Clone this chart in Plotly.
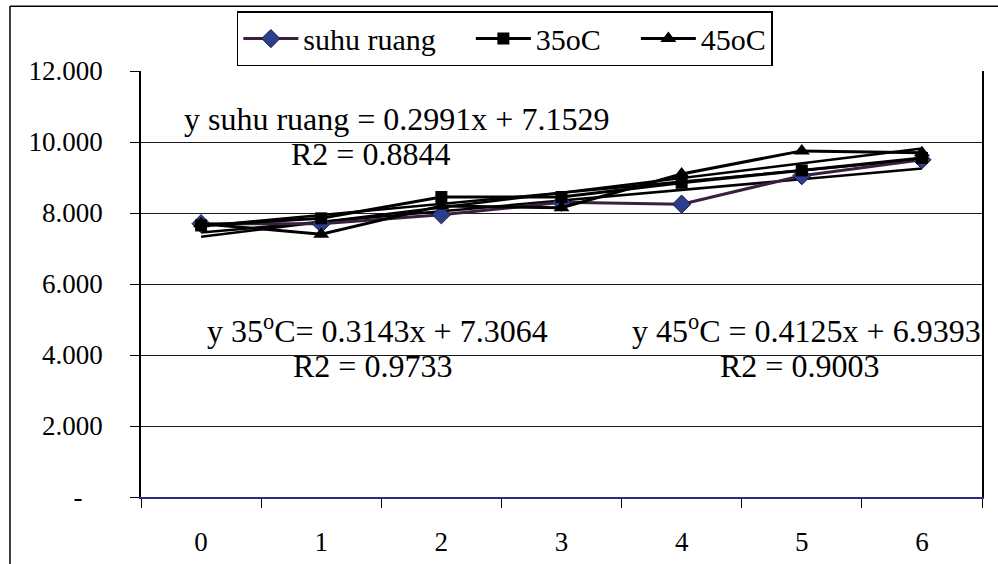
import numpy as np
import plotly.graph_objects as go

# ---- data ----
categories = [0, 1, 2, 3, 4, 5, 6]
tick_labels = ["0", "1", "2", "3", "4", "5", "6"]
suhu_ruang = [7.70, 7.70, 7.95, 8.30, 8.25, 9.05, 9.50]
suhu_35 = [7.65, 7.85, 8.45, 8.45, 8.85, 9.20, 9.55]
suhu_45 = [7.70, 7.40, 8.20, 8.15, 9.10, 9.75, 9.70]
y_ticks = [0, 2, 4, 6, 8, 10, 12]
y_tick_text = ["-\u00a0\u00a0\u00a0", "2.000", "4.000", "6.000", "8.000", "10.000", "12.000"]
series_names = ["suhu ruang", "35oC", "45oC"]

FONT = "Liberation Serif, Times New Roman, serif"

fig = go.Figure()

# trendlines (linear fit of each series, Excel uses x = 1..7)
xfit = np.array(categories, dtype=float) + 1
for vals in [suhu_ruang, suhu_35, suhu_45]:
    m, b = np.polyfit(xfit, vals, 1)
    fig.add_trace(go.Scatter(x=categories, y=m * xfit + b, mode="lines",
                             line=dict(color="black", width=2.5),
                             showlegend=False, hoverinfo="skip"))

pad = "\u00a0" * 4
fig.add_trace(go.Scatter(x=categories, y=suhu_ruang, mode="lines+markers", name=series_names[0] + pad,
                         line=dict(color="#3a1f3f", width=3),
                         marker=dict(symbol="diamond", size=14, color="#2b3f8c",
                                     line=dict(color="#1a1a3a", width=1))))
fig.add_trace(go.Scatter(x=categories, y=suhu_35, mode="lines+markers", name=series_names[1] + pad,
                         line=dict(color="black", width=3),
                         marker=dict(symbol="square", size=12, color="black")))
fig.add_trace(go.Scatter(x=categories, y=suhu_45, mode="lines+markers", name=series_names[2],
                         line=dict(color="black", width=3),
                         marker=dict(symbol="triangle-up", size=14, color="black")))

ann_font = dict(family=FONT, size=32, color="black")
annots = [
    ("y suhu ruang = 0.2991x + 7.1529", 1.625, 10.65),
    ("R2 = 0.8844", 1.41, 9.67),
    ("y 35<sup>o</sup>C= 0.3143x + 7.3064", 1.47, 4.72),
    ("R2 = 0.9733", 1.43, 3.68),
    ("y 45<sup>o</sup>C = 0.4125x + 6.9393", 5.04, 4.72),
    ("R2 = 0.9003", 4.98, 3.68),
]
for txt, ax_, ay_ in annots:
    fig.add_annotation(x=ax_, y=ay_, text=txt, showarrow=False, font=ann_font,
                       xanchor="center", yanchor="middle")

# outer chart border (left and top edges visible)
fig.add_shape(type="line", xref="paper", yref="paper", x0=-0.1558, x1=-0.1558, y0=1.152, y1=-0.2,
              line=dict(color="black", width=1.5))
fig.add_shape(type="line", xref="paper", yref="paper", x0=-0.1558, x1=1.05, y0=1.152, y1=1.152,
              line=dict(color="black", width=1.5))

fig.update_layout(
    width=998, height=564,
    margin=dict(l=141, r=16, t=70, b=67),
    paper_bgcolor="white", plot_bgcolor="white",
    font=dict(family=FONT, size=26, color="black"),
    showlegend=True,
    legend=dict(orientation="h", x=0.114, y=1.138, xanchor="left", yanchor="top",
                bordercolor="black", borderwidth=1.5, bgcolor="white",
                font=dict(family=FONT, size=30), itemwidth=55, tracegroupgap=0),
    xaxis=dict(range=[-0.5, 6.5], tickvals=categories, ticktext=tick_labels,
               ticks="", showgrid=False, zeroline=False,
               showline=True, linecolor="#2a2a80", linewidth=1.5,
               ticklabelstandoff=20, automargin=False,
               minor=dict(tickvals=[i - 0.5 for i in range(8)], ticks="outside",
                          ticklen=9, tickcolor="black", showgrid=False),
               tickfont=dict(family=FONT, size=27)),
    yaxis=dict(range=[0, 12], tickvals=y_ticks, ticktext=y_tick_text,
               ticks="outside", ticklen=9, tickcolor="black",
               showgrid=True, gridcolor="#1a1a1a", gridwidth=1.2,
               zeroline=False, showline=True, linecolor="black", linewidth=1.5, mirror=True,
               ticklabelstandoff=22, automargin=False, tickfont=dict(family=FONT, size=27)),
)

fig.write_html("out.html", config={"displayModeBar": False},
               post_script="document.body.style.margin='0';")
